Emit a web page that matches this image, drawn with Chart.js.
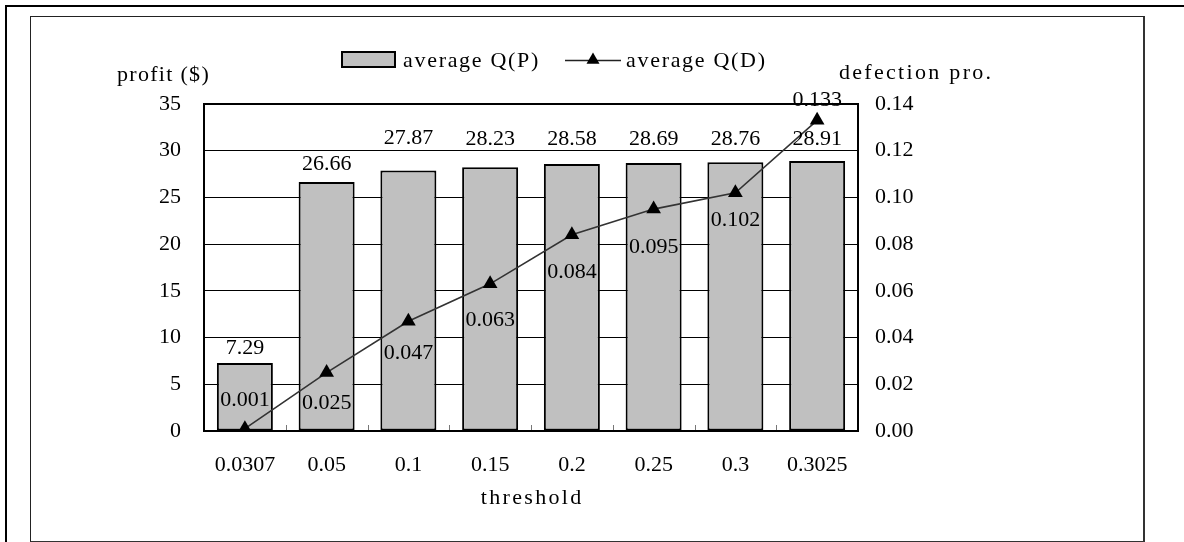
<!DOCTYPE html>
<html>
<head>
<meta charset="utf-8">
<script src="https://cdn.jsdelivr.net/npm/chart.js@4/dist/chart.umd.min.js"></script>
<style>
  html, body { margin: 0; padding: 0; background: #fff; }
  #wrap { position: relative; width: 1184px; height: 542px; overflow: hidden; }
  #outer { position: absolute; left: 5px; top: 5px; width: 1179px; height: 540px;
           border-top: 2px solid #000; border-left: 2px solid #000; box-sizing: border-box; }
  #inner { position: absolute; left: 30px; top: 16px; width: 1115px; height: 526px;
           border-top: 1px solid #222; border-left: 1px solid #222; border-right: 2px solid #333;
           border-bottom: 1px solid #333; box-sizing: border-box; }
  canvas { position: absolute; left: 0; top: 0; }
</style>
</head>
<body>
<div id="wrap">
  <div id="outer"></div>
  <div id="inner"></div>
  <canvas id="c" width="1184" height="542"></canvas>
</div>
<script>
// thresholds on the x axis
const categories = ['0.0307', '0.05', '0.1', '0.15', '0.2', '0.25', '0.3', '0.3025'];
// average profit per threshold ($)
const profitValues = [7.29, 26.66, 27.87, 28.23, 28.58, 28.69, 28.76, 28.91];
// average defection probability per threshold
const defectionValues = [0.001, 0.025, 0.047, 0.063, 0.084, 0.095, 0.102, 0.133];
// axis tick ranges
const profitTicks = { min: 0, max: 35, step: 5 };
const defectionTicks = { min: 0, max: 0.14, step: 0.02 };

const SERIF = "'Liberation Serif', 'Times New Roman', serif";
const FONT_SIZE = 22;
const W = 1184, H = 542;
const AREA = { left: 204, right: 858, top: 104, bottom: 431 };

// label offsets (px above bar top / px below point, negative = above)
const barLabelLift = [15, 18, 32, 28, 25, 24, 23, 22];
const lineLabelDrop = [-28, 31, 32, 36, 37, 38, 27, -20];

function txt(ctx, s, x, y, align, spacing) {
  ctx.save();
  ctx.letterSpacing = (spacing || 0) + 'px';
  ctx.font = FONT_SIZE + 'px ' + SERIF;
  ctx.fillStyle = '#000';
  ctx.textAlign = align;
  ctx.textBaseline = 'middle';
  let dx = 0;
  if (align === 'center') dx = (spacing || 0) / 2;
  ctx.fillText(s, x + dx, y);
  ctx.restore();
}

function triangle(ctx, x, y, r) {
  ctx.beginPath();
  ctx.moveTo(x, y - r);
  ctx.lineTo(x + r * Math.sqrt(3) / 2, y + r / 2);
  ctx.lineTo(x - r * Math.sqrt(3) / 2, y + r / 2);
  ctx.closePath();
  ctx.fill();
}

const decor = {
  id: 'decor',
  beforeDatasetsDraw(chart) {
    // small category separators rising from the x axis
    const ctx = chart.ctx, a = chart.chartArea, xs = chart.scales.x;
    ctx.save();
    ctx.strokeStyle = '#777';
    ctx.lineWidth = 1;
    const n = categories.length;
    for (let i = 1; i < n; i++) {
      const bx = Math.round((xs.getPixelForValue(i - 1) + xs.getPixelForValue(i)) / 2) + 0.5;
      ctx.beginPath();
      ctx.moveTo(bx, a.bottom);
      ctx.lineTo(bx, a.bottom - 6);
      ctx.stroke();
    }
    ctx.restore();
  },
  afterDatasetsDraw(chart) {
    const ctx = chart.ctx, a = chart.chartArea;
    // plot frame
    ctx.save();
    ctx.strokeStyle = '#000';
    ctx.lineWidth = 2;
    ctx.strokeRect(a.left, a.top, a.right - a.left, a.bottom - a.top);
    ctx.restore();

    // value labels
    const barMeta = chart.getDatasetMeta(0);
    barMeta.data.forEach((el, i) => {
      txt(ctx, profitValues[i].toFixed(2), el.x, el.y - barLabelLift[i], 'center', 0);
    });
    const lineMeta = chart.getDatasetMeta(1);
    lineMeta.data.forEach((el, i) => {
      txt(ctx, defectionValues[i].toFixed(3), el.x, el.y + lineLabelDrop[i], 'center', 0);
    });
  },
  afterDraw(chart) {
    const ctx = chart.ctx, a = chart.chartArea;
    // axis titles
    txt(ctx, 'profit ($)', 117, 75, 'left', 1.3);
    txt(ctx, 'defection pro.', 839, 73, 'left', 2.3);
    txt(ctx, 'threshold', (a.left + a.right) / 2, 498, 'center', 2.3);

    // legend
    ctx.save();
    ctx.fillStyle = '#c0c0c0';
    ctx.fillRect(342, 52, 53, 15);
    ctx.strokeStyle = '#000';
    ctx.lineWidth = 2;
    ctx.strokeRect(342, 52, 53, 15);
    ctx.restore();
    txt(ctx, 'average Q(P)', 403, 61, 'left', 1.7);
    ctx.save();
    ctx.strokeStyle = '#222';
    ctx.lineWidth = 1.5;
    ctx.beginPath();
    ctx.moveTo(565, 60.5);
    ctx.lineTo(621, 60.5);
    ctx.stroke();
    ctx.fillStyle = '#000';
    triangle(ctx, 593, 60, 7.5);
    ctx.restore();
    txt(ctx, 'average Q(D)', 626, 61, 'left', 1.7);
  }
};

new Chart(document.getElementById('c'), {
  type: 'bar',
  data: {
    labels: categories,
    datasets: [
      {
        type: 'bar',
        label: 'average Q(P)',
        data: profitValues,
        yAxisID: 'y',
        backgroundColor: '#c0c0c0',
        borderColor: '#000',
        borderWidth: 2,
        borderSkipped: false,
        barPercentage: 0.685,
        categoryPercentage: 1,
        order: 2
      },
      {
        type: 'line',
        label: 'average Q(D)',
        data: defectionValues,
        yAxisID: 'y1',
        borderColor: '#333',
        borderWidth: 1.6,
        pointStyle: 'triangle',
        pointRadius: 8.5,
        pointBackgroundColor: '#000',
        pointBorderColor: '#000',
        pointBorderWidth: 0,
        tension: 0,
        fill: false,
        order: 1
      }
    ]
  },
  options: {
    responsive: false,
    animation: false,
    devicePixelRatio: 1,
    layout: { padding: { top: AREA.top, left: 0, right: 0, bottom: 0 } },
    plugins: { legend: { display: false }, tooltip: { enabled: false }, title: { display: false } },
    scales: {
      x: {
        offset: true,
        grid: { display: false },
        border: { display: false },
        ticks: { color: '#000', font: { family: SERIF, size: FONT_SIZE }, padding: 13, maxRotation: 0, autoSkip: false },
        afterFit(s) { s.height = H - AREA.bottom; }
      },
      y: {
        position: 'left',
        min: profitTicks.min,
        max: profitTicks.max,
        ticks: { stepSize: profitTicks.step, color: '#000', font: { family: SERIF, size: FONT_SIZE }, padding: 23 },
        grid: { color: '#000', lineWidth: 1, drawTicks: false },
        border: { display: false },
        afterFit(s) { s.width = AREA.left; }
      },
      y1: {
        position: 'right',
        min: defectionTicks.min,
        max: defectionTicks.max,
        ticks: {
          stepSize: defectionTicks.step, color: '#000', font: { family: SERIF, size: FONT_SIZE }, padding: 17,
          callback: v => Number(v).toFixed(2)
        },
        grid: { drawOnChartArea: false, drawTicks: false },
        border: { display: false },
        afterFit(s) { s.width = W - AREA.right; }
      }
    }
  },
  plugins: [decor]
});
</script>
</body>
</html>
